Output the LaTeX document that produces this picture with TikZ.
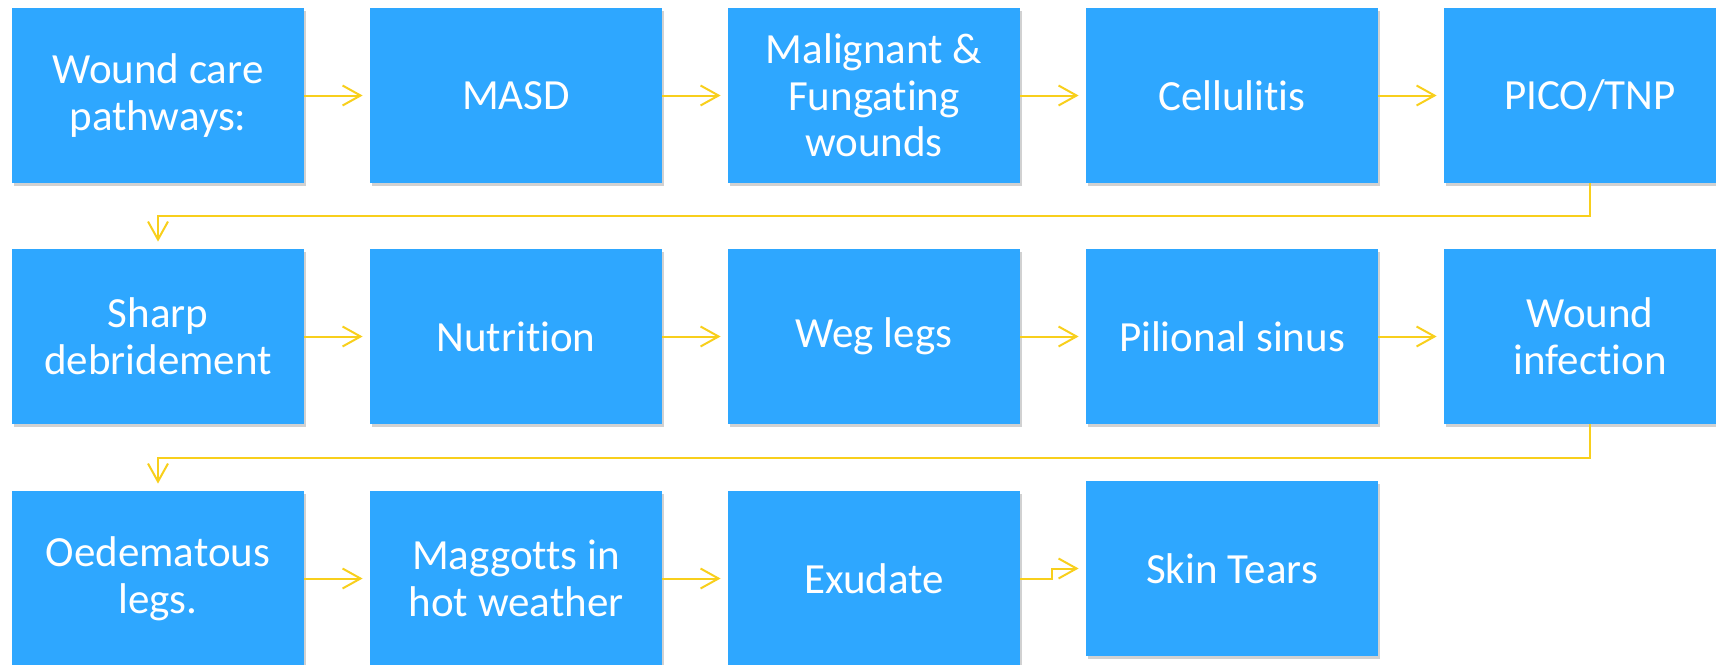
\documentclass[tikz,border=0pt]{standalone}
\usepackage{fontspec}
\setmainfont{Carlito}[Ligatures=NoCommon]
\usetikzlibrary{arrows.meta,shadows}
\definecolor{boxblue}{HTML}{2EA7FF}
\definecolor{arrowyellow}{HTML}{F8CF1C}
\tikzset{
  stepbox/.style={fill=boxblue, draw=none, text=white, align=center,
    minimum width=146pt, minimum height=87.5pt, inner sep=0pt, outer sep=0pt,
    font=\fontsize{21.5pt}{23.3pt}\selectfont,
    drop shadow={shadow xshift=1.2pt, shadow yshift=-1.5pt, opacity=0.18, fill=black}},
  conn/.style={draw=arrowyellow, line width=1pt,
    -{Straight Barb[length=9pt,width=10pt,line width=1pt]}, shorten >=3.7pt}
}
\begin{document}
\begin{tikzpicture}[x=0.5pt,y=-0.5pt]
\useasboundingbox (0,0) rectangle (1716,664);
% row 1
\node[stepbox] (a1) at (158,95.5) {Wound care\\pathways:};
\node[stepbox] (a2) at (516,95.5) {MASD};
\node[stepbox] (a3) at (874,95.5) {Malignant \&\\Fungating\\wounds};
\node[stepbox] (a4) at (1232,95.5) {Cellulitis};
\node[stepbox] (a5) at (1590,95.5) {PICO/TNP};
% row 2
\node[stepbox] (b1) at (158,336.5) {Sharp\\debridement};
\node[stepbox] (b2) at (516,336.5) {Nutrition};
\node[stepbox] (b3) at (874,336.5) {Weg legs};
\node[stepbox] (b4) at (1232,336.5) {Pilional sinus};
\node[stepbox] (b5) at (1590,336.5) {Wound\\infection};
% row 3
\node[stepbox] (c1) at (158,578.5) {Oedematous\\legs.};
\node[stepbox] (c2) at (516,578.5) {Maggotts in\\hot weather};
\node[stepbox] (c3) at (874,578.5) {Exudate};
\node[stepbox] (c4) at (1232,568.5) {Skin Tears};
% connectors
\draw[conn] (a1) -- (a2);
\draw[conn] (a2) -- (a3);
\draw[conn] (a3) -- (a4);
\draw[conn] (a4) -- (a5);
\draw[conn] (a5.south) -- ++(0,33) -| (b1.north);
\draw[conn] (b1) -- (b2);
\draw[conn] (b2) -- (b3);
\draw[conn] (b3) -- (b4);
\draw[conn] (b4) -- (b5);
\draw[conn] (b5.south) -- ++(0,34) -| (c1.north);
\draw[conn] (c1) -- (c2);
\draw[conn] (c2) -- (c3);
\draw[conn] (c3.east) -- ++(32,0) |- (c4.west);
\end{tikzpicture}
\end{document}
